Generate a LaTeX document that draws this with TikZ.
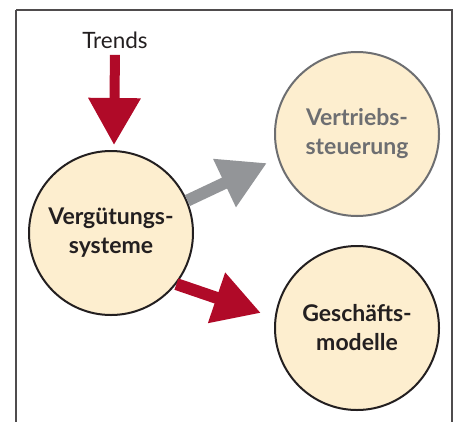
\documentclass[tikz,border=0pt]{standalone}
\usepackage{fontspec}
\setmainfont{Lato}
\usetikzlibrary{arrows.meta}
\definecolor{trendred}{HTML}{B00A28}
\definecolor{arrgray}{HTML}{939598}
\definecolor{cream}{HTML}{FDEECF}
\definecolor{ink}{HTML}{231F20}
\definecolor{softgray}{HTML}{6D6E71}
\tikzset{
  topic/.style  = {draw=ink, line width=2pt, circle, fill=cream, minimum size=164pt,
                   inner sep=0pt, align=center, text=ink,
                   font=\fontsize{23}{29}\selectfont\bfseries},
  dimtopic/.style = {topic, draw=softgray, text=softgray},
  label/.style  = {font=\fontsize{22.5}{26}\selectfont, text=ink},
  push/.style   = {line width=10pt, trendred,
                   -{Triangle[length=47pt,width=50pt]}},
  weak/.style   = {push, arrgray, line width=12pt},
  frame/.style  = {draw=ink!80, line width=1.5pt}
}
\begin{document}
\begin{tikzpicture}[x=1pt,y=-1pt]
  \useasboundingbox (0,0) rectangle (460,421);
  \clip (0,0) rectangle (460,421);
  \draw[frame] (16,10) -- (452,10) -- (452,440) (16,10) -- (16,440);
  \node[label]    (trends) at (115,40)  {Trends};
  \node[topic]    (verg)   at (111,233) {Vergütungs-\\systeme};
  \node[dimtopic] (vert)   at (357,134) {Vertriebs-\\steuerung};
  \node[topic]    (gesch)  at (357,328) {Geschäfts-\\modelle};
  \coordinate (ttip) at (114,145);
  \coordinate (vtip) at (267,163);
  \coordinate (gtip) at (261,313);
  \draw[push, shorten <=3pt] (trends.south) -- (ttip);
  \draw[weak] (verg.23) -- (vtip);
  \draw[push, line width=12pt] (verg.-38) -- (gtip);
\end{tikzpicture}
\end{document}
